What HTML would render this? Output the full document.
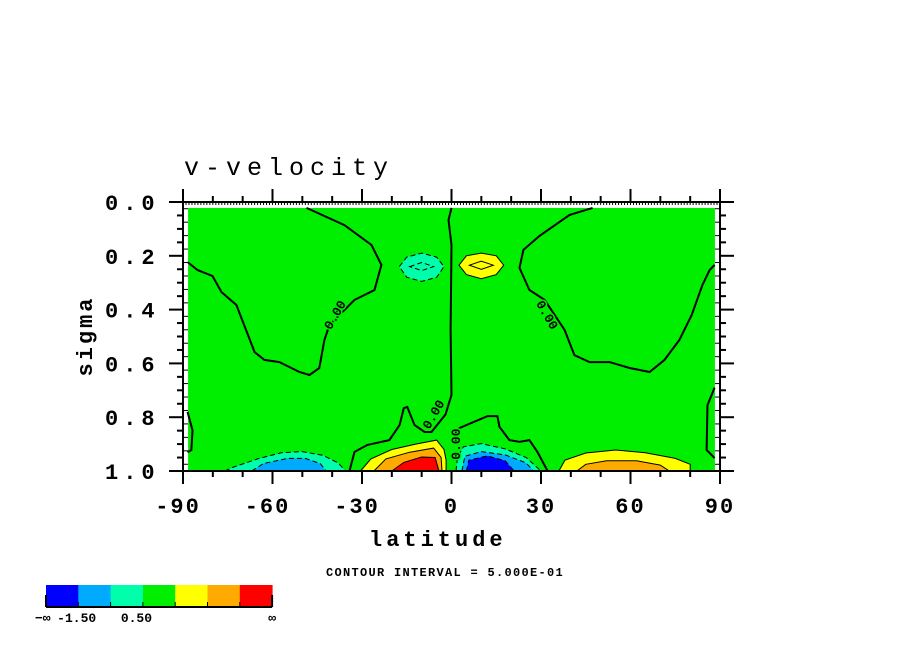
<!DOCTYPE html>
<html><head><meta charset="utf-8"><style>
html,body{margin:0;padding:0;background:#fff;}
svg{display:block;}
text{font-family:"Liberation Mono","DejaVu Sans Mono",monospace;fill:#000;}
</style></head><body>
<svg id="c" width="904" height="654" viewBox="0 0 904 654" xmlns="http://www.w3.org/2000/svg">
<rect width="904" height="654" fill="#fff"/>
<g id="plot"></g>
<g id="axes"></g>
<text x="184" y="175" font-size="25" letter-spacing="6" font-family="Liberation Serif">v-velocity</text>
<text x="369" y="546" font-size="22" letter-spacing="4" font-weight="bold">latitude</text>
<text x="92" y="336" font-size="22" letter-spacing="3" transform="rotate(-90 92 336)" text-anchor="middle" font-weight="bold">sigma</text>
<text x="326" y="576" font-size="12" letter-spacing="1.3" font-weight="bold">CONTOUR INTERVAL = 5.000E-01</text>
<g id="legend"></g>
</svg>
<script>
// ---- data ----
const xTicks=[-90,-60,-30,0,30,60,90];
const yTicks=[0.0,0.2,0.4,0.6,0.8,1.0];
const legendColors=["#0000ff","#00aaff","#00ffaa","#00ee00","#ffff00","#ffaa00","#ff0000"];
const legendLabels=[["−∞",-0.1],["-1.50",0.95],["0.50",2.8],["∞",7]];
// filled regions [lat, sigma]
const negLeftCyan=[[-76,1],[-73,0.985],[-65,0.955],[-57,0.932],[-50,0.928],[-43,0.942],[-38,0.97],[-35.5,1]];
const negLeftBlue=[[-67,1],[-63,0.972],[-55,0.953],[-49,0.953],[-44,0.972],[-42,1]];
const posLeftYellow=[[-30.5,1],[-27,0.955],[-20,0.92],[-12,0.9],[-5,0.885],[-2.5,0.92],[-1.8,0.96],[-1.8,1]];
const posLeftOrange=[[-26,1],[-22,0.955],[-14,0.93],[-6,0.915],[-3.5,0.95],[-3.2,1]];
const posLeftRed=[[-20,1],[-16,0.968],[-10,0.948],[-5.5,0.95],[-4.2,1]];
const negRightCyan=[[1.5,1],[2,0.95],[4,0.91],[10,0.898],[18,0.918],[25,0.95],[30,1]];
const negRightLBlue=[[3.5,1],[4.5,0.945],[10,0.928],[18,0.94],[25,0.97],[27.5,1]];
const negRightBlue=[[5,1],[5.8,0.96],[12,0.944],[18,0.962],[21,1]];
const posRightYellow=[[36,1],[38,0.96],[45,0.933],[55,0.922],[65,0.932],[75,0.953],[80,0.975],[80,1]];
const posRightOrange=[[42,1],[45,0.975],[52,0.962],[62,0.962],[70,0.978],[73,1]];
const upperCyan=[[-17.5,0.24],[-15,0.205],[-10,0.19],[-5,0.205],[-2.5,0.24],[-5,0.28],[-10,0.295],[-15,0.28]];
const upperCyanIn=[[-14,0.24],[-10,0.225],[-6,0.24],[-10,0.255]];
const upperYellow=[[2.5,0.235],[5,0.2],[10,0.19],[15,0.2],[17.5,0.235],[15,0.27],[10,0.285],[5,0.27]];
const upperYellowIn=[[6,0.235],[10,0.22],[14,0.235],[10,0.25]];
// zero contours
const zeroLeft=[[-88.5,0.223],[-85.1,0.253],[-80.1,0.275],[-77.1,0.335],[-72.1,0.383],[-66,0.558],[-62.7,0.587],[-57.7,0.595],[-51,0.632],[-47.6,0.643],[-44.3,0.617],[-42.6,0.513],[-40.9,0.457],[-32.5,0.364],[-25.8,0.327],[-23.5,0.234],[-26.8,0.16],[-35.9,0.086],[-48.6,0.022]];
const zeroRight=[[47.3,0.022],[39.6,0.048],[29.5,0.126],[24.1,0.178],[22.8,0.245],[26.1,0.327],[31.2,0.364],[37.9,0.476],[41.2,0.569],[46.3,0.595],[53,0.595],[59.7,0.617],[66.4,0.632],[71.4,0.587],[76.4,0.513],[80.5,0.42],[84.1,0.309],[86.5,0.253],[88.2,0.234]];
const zeroCenter=[[0,0.022],[-1,0.067],[0,0.16],[-0.3,0.476],[0,0.717],[-2,0.79],[-6.7,0.855],[-9,0.855],[-12.4,0.829],[-14.8,0.762],[-16,0.766],[-17.4,0.829],[-20.8,0.885],[-28.2,0.903],[-32.5,0.929],[-34.2,1]];
const zeroBotRight=[[1,0.9],[2.7,0.84],[12.1,0.796],[15.4,0.796],[16.1,0.836],[19.4,0.885],[22.8,0.892],[26.1,0.885],[28.8,0.929],[32.2,1]];
const zeroEdgeL=[[-88.5,0.78],[-86.8,0.848],[-87.2,0.922],[-88.5,0.93]];
const zeroEdgeR=[[88.2,0.69],[85.8,0.755],[85.5,0.922],[88.2,0.952]];
const zeroLabels=[[-39,0.42,-60],[32,0.42,60],[-6,0.79,-60],[1.5,0.9,-90]];

// ---- scales ----
const X0=183,X1=720,Y0=202,Y1=471;
const xs=v=>X0+(v+90)/180*(X1-X0);
const ys=v=>Y0+v*(Y1-Y0);
const NS="http://www.w3.org/2000/svg";
function mk(tag,parent){const e=document.createElementNS(NS,tag);parent.appendChild(e);return e;}
const plot=document.getElementById('plot'),axes=document.getElementById('axes'),legend=document.getElementById('legend');
const pts=a=>a.map(p=>xs(p[0]).toFixed(1)+","+ys(p[1]).toFixed(1)).join(" ");

let bg=mk('rect',plot);


bg.setAttribute('x',xs(-88.3));bg.setAttribute('y',ys(0.022));
bg.setAttribute('width',xs(88.3)-xs(-88.3));bg.setAttribute('height',ys(1)-ys(0.022));
bg.setAttribute('fill','#00ee00');

function region(arr,fill,dash,name,closed){
  const e=mk(closed?'polygon':'polyline',plot);
  
  
  e.setAttribute('points',pts(arr));
  e.setAttribute('fill',fill);e.setAttribute('stroke','#000');e.setAttribute('stroke-width','1');
  if(dash)e.setAttribute('stroke-dasharray','5,3');
}
region(negLeftCyan,"#00ffaa",1,"neg-left-outer",1);
region(negLeftBlue,"#00aaff",1,"neg-left-inner",1);
region(posLeftYellow,"#ffff00",0,"pos-left-outer",1);
region(posLeftOrange,"#ffaa00",0,"pos-left-mid",1);
region(posLeftRed,"#ff0000",0,"pos-left-core",1);
region(negRightCyan,"#00ffaa",1,"neg-right-outer",1);
region(negRightLBlue,"#00aaff",1,"neg-right-mid",1);
region(negRightBlue,"#0000ff",1,"neg-right-core",1);
region(posRightYellow,"#ffff00",0,"pos-right-outer",1);
region(posRightOrange,"#ffaa00",0,"pos-right-inner",1);
region(upperCyan,"#00ffaa",1,"upper-neg-cell",1);
region(upperCyanIn,"none",1,"upper-neg-inner",1);
region(upperYellow,"#ffff00",0,"upper-pos-cell",1);
region(upperYellowIn,"none",0,"upper-pos-inner",1);

function line(arr,name){
  const e=mk('polyline',plot);
  
  
  e.setAttribute('points',pts(arr));
  e.setAttribute('fill','none');e.setAttribute('stroke','#000');e.setAttribute('stroke-width','2');
}
line(zeroLeft,'zero-contour-left');line(zeroRight,'zero-contour-right');
line(zeroCenter,'zero-contour-center');line(zeroBotRight,'zero-contour-bottom-right');
line(zeroEdgeL,'zero-contour-edge-left');line(zeroEdgeR,'zero-contour-edge-right');
zeroLabels.forEach(l=>{
  const t=mk('text',plot);
  
  
  const x=xs(l[0]),y=ys(l[1]);
  t.setAttribute('x',x);t.setAttribute('y',y+4);t.setAttribute('font-size','13');t.setAttribute('font-weight','bold');
  t.setAttribute('text-anchor','middle');t.setAttribute('transform',`rotate(${l[2]} ${x} ${y})`);
  t.setAttribute('stroke','#00ee00');t.setAttribute('stroke-width','3');t.setAttribute('paint-order','stroke');
  t.textContent='0.00';
});

// axes
function ln(x1,y1,x2,y2,w,name){const e=mk('line',axes);
  
  
  e.setAttribute('x1',x1);e.setAttribute('y1',y1);e.setAttribute('x2',x2);e.setAttribute('y2',y2);
  e.setAttribute('stroke','#000');e.setAttribute('stroke-width',w);}
ln(X0,Y0,X1,Y0,2,'top-axis');ln(X0,Y1,X1,Y1,2,'bottom-axis');
ln(X0,Y0,X0,Y1,2,'left-axis');ln(X1,Y0,X1,Y1,2,'right-axis');
for(let d=-90;d<=90;d+=10){const major=d%30===0,L=major?13:6,x=xs(d);
  ln(x,Y0,x,Y0-L,2,'top-tick');ln(x,Y1,x,Y1+L,2,'bottom-tick');}
for(let d=-89;d<90;d++){const x=xs(d);ln(x,Y0,x,Y0+3,1,'top-minor-tick');}
for(let s=0;s<=1.0001;s+=0.05){const major=Math.abs(s*5-Math.round(s*5))<1e-6,L=major?14:6,y=ys(s);
  ln(X0,y,X0-L,y,2,'left-tick');ln(X1,y,X1+L,y,2,'right-tick');}
for(let s=0.025;s<1;s+=0.05){const y=ys(s);ln(X0,y,X0+5,y,1,'left-inner-tick');ln(X1,y,X1-5,y,1,'right-inner-tick');}
xTicks.forEach(v=>{const t=mk('text',axes);
  
  
  t.setAttribute('x',xs(v)+(v<0?-5:0));t.setAttribute('y',513);t.setAttribute('font-size','22');t.setAttribute('font-weight','bold');
  t.setAttribute('text-anchor','middle');t.setAttribute('letter-spacing','2');t.textContent=String(v);});
yTicks.forEach(v=>{const t=mk('text',axes);
  
  
  t.setAttribute('x',105);t.setAttribute('y',ys(v)+8);t.setAttribute('font-size','22');t.setAttribute('font-weight','bold');
  t.setAttribute('letter-spacing','5');t.textContent=v.toFixed(1);});

// legend
const LX=46,LW=32.3,LY=585,LH=22;
legendColors.forEach((c,i)=>{const r=mk('rect',legend);
  
  
  r.setAttribute('x',LX+i*LW);r.setAttribute('y',LY);r.setAttribute('width',LW+0.5);r.setAttribute('height',LH);r.setAttribute('fill',c);});
for(let i=0;i<=7;i++){const e=mk('line',legend);
  
  
  const x=LX+i*LW;e.setAttribute('x1',x);e.setAttribute('x2',x);e.setAttribute('y1',(i===0||i===7)?LY+10:LY+17);e.setAttribute('y2',LY+LH);
  e.setAttribute('stroke','#000');e.setAttribute('stroke-width',(i===0||i===7)?2:1);}
const bl=mk('line',legend);


bl.setAttribute('x1',LX);bl.setAttribute('x2',LX+7*LW);bl.setAttribute('y1',LY+LH);bl.setAttribute('y2',LY+LH);bl.setAttribute('stroke','#000');bl.setAttribute('stroke-width','2');
legendLabels.forEach(l=>{const t=mk('text',legend);
  
  
  t.setAttribute('x',LX+l[1]*LW);t.setAttribute('y',622);t.setAttribute('font-size','13');t.setAttribute('font-weight','bold');
  t.setAttribute('text-anchor','middle');t.textContent=l[0];});
</script>
</body></html>
